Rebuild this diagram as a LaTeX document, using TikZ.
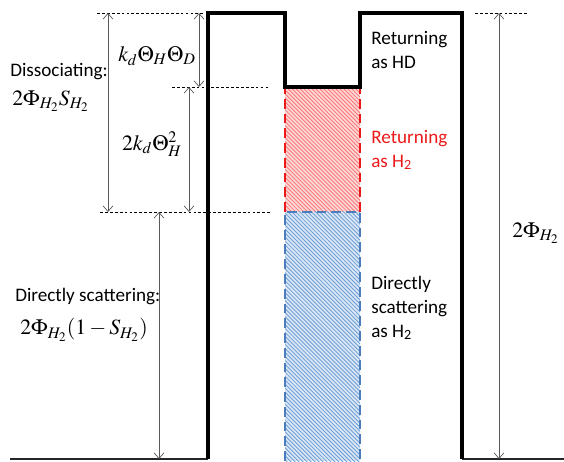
\documentclass[tikz,border=0pt]{standalone}
\usepackage{mathptmx}
\usepackage[no-math]{fontspec}
\setmainfont{Carlito}
\usetikzlibrary{arrows.meta,patterns.meta}
\definecolor{retred}{RGB}{235,25,25}
\definecolor{hatchred}{RGB}{250,120,120}
\definecolor{scatblue}{RGB}{75,125,190}
\definecolor{hatchblue}{RGB}{110,160,215}

\begin{document}
\begin{tikzpicture}[x=0.025cm, y=0.025cm, font=\fontsize{13.6}{17}\selectfont]
  \tikzstyle{wall}=[line width=2.8pt, line join=miter]
  \tikzstyle{ground}=[line width=1pt, black!85]
  \tikzstyle{guide}=[line width=0.4pt, dash pattern=on 2pt off 1.5pt]
  \tikzstyle{dim}=[line width=0.5pt, black!65, {Straight Barb[length=4pt,width=7pt]}-{Straight Barb[length=4pt,width=7pt]}]
  \tikzstyle{formula}=[inner sep=0pt, font=\fontsize{15.5}{18}\selectfont]
  \tikzstyle{label}=[inner sep=0pt, align=left, anchor=west]
  \useasboundingbox (0,0) rectangle (564,461);

  % levels of the profile
  \coordinate (bl) at (10,2);    \coordinate (br) at (564,2);
  \coordinate (w1b) at (208,2);  \coordinate (w1t) at (208,448);
  \coordinate (s1t) at (285,448); \coordinate (s1b) at (285,374);
  \coordinate (s2b) at (360,374); \coordinate (s2t) at (360,448);
  \coordinate (w2t) at (462,448); \coordinate (w2b) at (462,2);

  % hatched parts
  \path[preaction={fill=hatchred!30}, pattern={Lines[angle=-45,distance=2pt,line width=0.6pt]}, pattern color=hatchred] (285,374) rectangle (360,249);
  \path[preaction={fill=hatchblue!25}, pattern={Lines[angle=-45,distance=2pt,line width=0.6pt]}, pattern color=hatchblue] (285,249) rectangle (360,0);
  \draw[retred, line width=1.3pt, dash pattern=on 7pt off 3.5pt] (285,249) -- (s1b) (360,249) -- (s2b);
  \draw[scatblue, line width=1.3pt, dash pattern=on 7pt off 3.5pt] (285,0) -- (285,249) -- (360,249) -- (360,0);

  % profile
  \draw[ground] (bl) -- (w1b) (w2b) -- (br);
  \draw[wall] (w1b) -- (w1t) -- (s1t) -- (s1b) -- (s2b) -- (s2t) -- (w2t) -- (w2b);

  % guides
  \draw[guide] (97,448) -- (203,448);
  \draw[guide] (172,374) -- (268,374);
  \draw[guide] (100,249) -- (270,249);
  \draw[guide] (475,448) -- (527,448);

  % dimensions
  \coordinate (dA) at (108,448); \coordinate (dB) at (108,249);
  \draw[dim] (dA) -- (dB);
  \coordinate (dC) at (199,448); \coordinate (dD) at (199,374);
  \draw[dim] (dC) -- (dD);
  \coordinate (dE) at (189,374); \coordinate (dF) at (189,249);
  \draw[dim] (dE) -- (dF);
  \coordinate (dG) at (159,249); \coordinate (dH) at (159,2);
  \draw[dim] (dG) -- (dH);
  \coordinate (dI) at (499,448); \coordinate (dJ) at (499,2);
  \draw[dim] (dI) -- (dJ);

  % texts
  \node[label] (diss) at (10,389) {Dissociating:};
  \node[formula, anchor=west] (dissf) at (12,360) {$2\Phi_{H_2}S_{H_2}$};
  \node[formula] (hd) at (157,405) {$k_d\Theta_H\Theta_D$};
  \node[formula] (hh) at (152,317) {$2k_d\Theta_H^2$};
  \node[label] (scat) at (15,164) {Directly scattering:};
  \node[formula, anchor=west] (scatf) at (20,131) {$2\Phi_{H_2}(1-S_{H_2})$};
  \node[label] (rethd) at (371,411) {Returning\\as HD};
  \node[label, text=retred] (reth) at (371,311) {Returning\\as H\textsubscript{2}};
  \node[label] (dirh) at (371,153) {Directly\\scattering\\as H\textsubscript{2}};
  \node[formula, anchor=west] (tot) at (512,228) {$2\Phi_{H_2}$};
\end{tikzpicture}
\end{document}
